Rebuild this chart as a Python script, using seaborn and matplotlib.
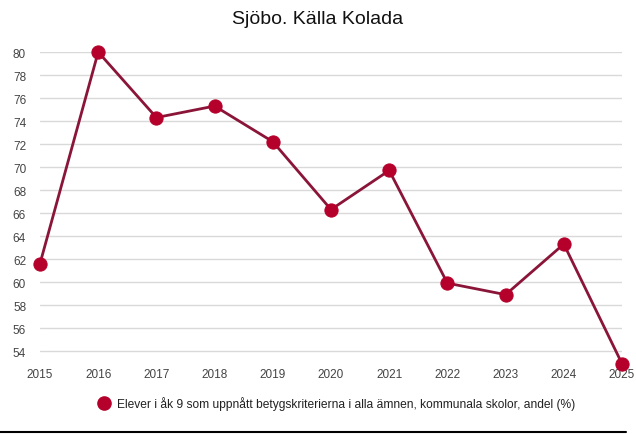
import matplotlib
matplotlib.use("Agg")
import matplotlib.pyplot as plt
import seaborn as sns
import pandas as pd
from matplotlib.lines import Line2D

years = [2015, 2016, 2017, 2018, 2019, 2020, 2021, 2022, 2023, 2024, 2025]
values = [61.6, 80.0, 74.3, 75.3, 72.2, 66.3, 69.7, 59.9, 58.9, 63.3, 52.9]
yticks = [54, 56, 58, 60, 62, 64, 66, 68, 70, 72, 74, 76, 78, 80]
series_label = "Elever i åk 9 som uppnått betygskriterierna i alla ämnen, kommunala skolor, andel (%)"
title = "Sjöbo. Källa Kolada"

sns.set_theme(style="white")
plt.rcParams['font.family'] = ['Liberation Sans', 'DejaVu Sans']

df = pd.DataFrame({"year": years, "value": values})

fig = plt.figure(figsize=(6.36, 4.35), dpi=100)
ax = fig.add_axes([40/636, 1 - 363.5/435, (622-40)/636, (363.5-53)/435])

line_color = "#8a1538"
marker_color = "#b5002b"
sns.lineplot(data=df, x="year", y="value", ax=ax, color=line_color, linewidth=2,
             marker="o", markersize=9.5, markerfacecolor=marker_color,
             markeredgecolor=marker_color, clip_on=False, zorder=3)

ax.set_xlim(2015, 2025)
ax.set_ylim(53, 80)
ax.set_xticks(years)
ax.set_yticks(yticks)
ax.tick_params(axis='both', labelsize=8.5, colors="#444444", length=0)
ax.tick_params(axis='x', pad=4)
ax.tick_params(axis='y', pad=10)
for lab in ax.get_yticklabels():
    lab.set_horizontalalignment('right')
ax.grid(axis='y', color="#d9d9d9", linewidth=1)
ax.grid(axis='x', visible=False)
for s in ax.spines.values():
    s.set_visible(False)
ax.set_xlabel("")
ax.set_ylabel("")

fig.text(0.5, 1 - 20/435, title, ha='center', va='center', fontsize=14, color="#111111")

handle = Line2D([], [], linestyle='none', marker='o', markersize=9.5,
                markerfacecolor=marker_color, markeredgecolor=marker_color)
fig.legend([handle], [series_label], loc='center', bbox_to_anchor=(0.53, 1 - 404/435),
           frameon=False, fontsize=8.65, handletextpad=0.6, handlelength=0.9,
           labelcolor="#222222")

fig.add_artist(Line2D([0, 0.985], [1 - 433/435, 1 - 433/435], color="black", linewidth=1.5,
                      transform=fig.transFigure))

fig.savefig("out.png", dpi=100)
